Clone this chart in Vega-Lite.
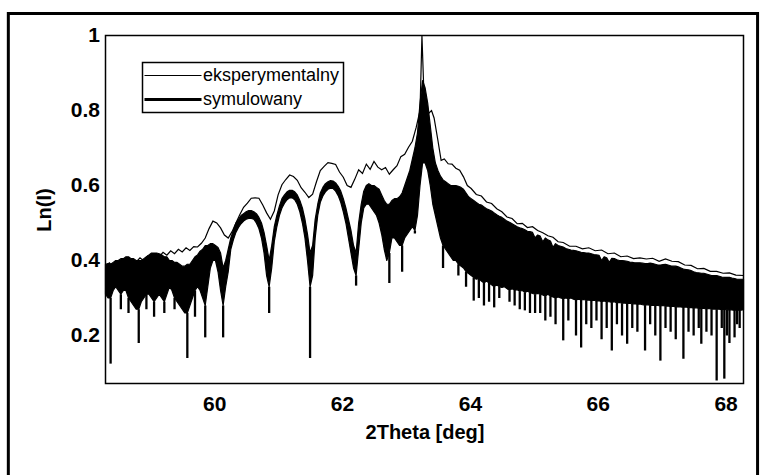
{
  "$schema": "https://vega.github.io/schema/vega-lite/v6.json",
  "width": 638,
  "height": 348,
  "padding": {"left": 6.5, "top": 11.5, "right": 0, "bottom": 0},
  "background": "white",
  "datasets": {
    "sim": [
      {"x":58.30,"top":0.39,"bot":0.31},{"x":58.34,"top":0.392,"bot":0.30},{"x":58.38,"top":0.39,"bot":0.30,"dip":0.125},{"x":58.42,"top":0.395,"bot":0.32},{"x":58.46,"top":0.40,"bot":0.33},{"x":58.50,"top":0.40,"bot":0.32},{"x":58.54,"top":0.405,"bot":0.31,"dip":0.27},{"x":58.58,"top":0.405,"bot":0.32},{"x":58.62,"top":0.41,"bot":0.32},{"x":58.66,"top":0.41,"bot":0.30,"dip":0.26},{"x":58.70,"top":0.405,"bot":0.29},{"x":58.74,"top":0.405,"bot":0.28},{"x":58.78,"top":0.40,"bot":0.27},{"x":58.82,"top":0.40,"bot":0.27,"dip":0.18},{"x":58.86,"top":0.40,"bot":0.29},{"x":58.90,"top":0.405,"bot":0.30},{"x":58.94,"top":0.41,"bot":0.31,"dip":0.27},{"x":58.98,"top":0.415,"bot":0.31},{"x":59.02,"top":0.42,"bot":0.30},{"x":59.06,"top":0.42,"bot":0.29,"dip":0.25},{"x":59.10,"top":0.42,"bot":0.30},{"x":59.14,"top":0.418,"bot":0.31},{"x":59.18,"top":0.415,"bot":0.30},{"x":59.22,"top":0.41,"bot":0.29,"dip":0.26},{"x":59.26,"top":0.41,"bot":0.31},{"x":59.30,"top":0.40,"bot":0.33},{"x":59.34,"top":0.40,"bot":0.32},{"x":59.38,"top":0.395,"bot":0.30,"dip":0.27},{"x":59.42,"top":0.395,"bot":0.29},{"x":59.46,"top":0.39,"bot":0.28},{"x":59.50,"top":0.385,"bot":0.27},{"x":59.54,"top":0.385,"bot":0.26},{"x":59.58,"top":0.39,"bot":0.26,"dip":0.14},{"x":59.62,"top":0.39,"bot":0.28},{"x":59.66,"top":0.40,"bot":0.30},{"x":59.70,"top":0.41,"bot":0.32,"dip":0.25},{"x":59.74,"top":0.415,"bot":0.33},{"x":59.78,"top":0.425,"bot":0.32},{"x":59.82,"top":0.43,"bot":0.30},{"x":59.86,"top":0.44,"bot":0.28,"dip":0.195},{"x":59.90,"top":0.44,"bot":0.33},{"x":59.94,"top":0.445,"bot":0.38},{"x":59.98,"top":0.445,"bot":0.40},{"x":60.02,"top":0.44,"bot":0.40},{"x":60.06,"top":0.435,"bot":0.37},{"x":60.10,"top":0.42,"bot":0.32},{"x":60.14,"top":0.38,"bot":0.28,"dip":0.195},
      {"x":60.18,"top":0.40,"bot":0.33},{"x":60.22,"top":0.43,"bot":0.37},{"x":60.26,"top":0.46,"bot":0.43},{"x":60.30,"top":0.48,"bot":0.455},{"x":60.34,"top":0.50,"bot":0.475},{"x":60.38,"top":0.51,"bot":0.488},{"x":60.42,"top":0.52,"bot":0.498},{"x":60.46,"top":0.525,"bot":0.505},{"x":60.50,"top":0.53,"bot":0.51},{"x":60.54,"top":0.533,"bot":0.512},{"x":60.58,"top":0.533,"bot":0.512},{"x":60.62,"top":0.53,"bot":0.51},{"x":60.66,"top":0.525,"bot":0.50},{"x":60.70,"top":0.515,"bot":0.485},{"x":60.74,"top":0.50,"bot":0.46},{"x":60.78,"top":0.475,"bot":0.42},{"x":60.82,"top":0.44,"bot":0.36},{"x":60.86,"top":0.40,"bot":0.33,"dip":0.26},
      {"x":60.90,"top":0.44,"bot":0.38},{"x":60.94,"top":0.49,"bot":0.45},{"x":60.98,"top":0.52,"bot":0.49},{"x":61.02,"top":0.545,"bot":0.52},{"x":61.06,"top":0.565,"bot":0.54},{"x":61.10,"top":0.575,"bot":0.553},{"x":61.14,"top":0.583,"bot":0.562},{"x":61.18,"top":0.587,"bot":0.567},{"x":61.22,"top":0.587,"bot":0.567},{"x":61.26,"top":0.583,"bot":0.562},{"x":61.30,"top":0.575,"bot":0.55},{"x":61.34,"top":0.56,"bot":0.53},{"x":61.38,"top":0.54,"bot":0.50},{"x":61.42,"top":0.51,"bot":0.46},{"x":61.46,"top":0.47,"bot":0.40},{"x":61.50,"top":0.42,"bot":0.33,"dip":0.14},
      {"x":61.54,"top":0.44,"bot":0.36},{"x":61.58,"top":0.51,"bot":0.46},{"x":61.62,"top":0.55,"bot":0.52},{"x":61.66,"top":0.58,"bot":0.555},{"x":61.70,"top":0.595,"bot":0.572},{"x":61.74,"top":0.605,"bot":0.583},{"x":61.78,"top":0.61,"bot":0.59},{"x":61.82,"top":0.613,"bot":0.593},{"x":61.86,"top":0.612,"bot":0.592},{"x":61.90,"top":0.607,"bot":0.585},{"x":61.94,"top":0.598,"bot":0.573},{"x":61.98,"top":0.585,"bot":0.555},{"x":62.02,"top":0.565,"bot":0.53},{"x":62.06,"top":0.54,"bot":0.50},{"x":62.10,"top":0.51,"bot":0.46},{"x":62.14,"top":0.48,"bot":0.42},{"x":62.18,"top":0.44,"bot":0.38},{"x":62.22,"top":0.42,"bot":0.36,"dip":0.333},
      {"x":62.26,"top":0.50,"bot":0.43},{"x":62.30,"top":0.55,"bot":0.50},{"x":62.34,"top":0.585,"bot":0.54},{"x":62.38,"top":0.60,"bot":0.55},{"x":62.42,"top":0.605,"bot":0.55},{"x":62.46,"top":0.60,"bot":0.54},{"x":62.50,"top":0.60,"bot":0.53},{"x":62.54,"top":0.595,"bot":0.52},{"x":62.58,"top":0.59,"bot":0.50},{"x":62.62,"top":0.575,"bot":0.47},{"x":62.66,"top":0.56,"bot":0.43},{"x":62.70,"top":0.55,"bot":0.40},{"x":62.74,"top":0.55,"bot":0.42,"dip":0.34},{"x":62.78,"top":0.56,"bot":0.46},{"x":62.82,"top":0.565,"bot":0.46},{"x":62.86,"top":0.565,"bot":0.45},{"x":62.90,"top":0.57,"bot":0.44},{"x":62.94,"top":0.58,"bot":0.44,"dip":0.37},{"x":62.98,"top":0.60,"bot":0.46},
      {"x":63.02,"top":0.62,"bot":0.47},{"x":63.06,"top":0.64,"bot":0.48},{"x":63.10,"top":0.67,"bot":0.49},{"x":63.14,"top":0.70,"bot":0.48,"dip":0.472},{"x":63.18,"top":0.74,"bot":0.52},{"x":63.22,"top":0.82,"bot":0.60},{"x":63.26,"top":0.88,"bot":0.66},{"x":63.30,"top":0.86,"bot":0.66},{"x":63.34,"top":0.82,"bot":0.64},{"x":63.38,"top":0.76,"bot":0.60},{"x":63.42,"top":0.70,"bot":0.55},{"x":63.46,"top":0.66,"bot":0.52},{"x":63.50,"top":0.64,"bot":0.49},{"x":63.54,"top":0.625,"bot":0.46},{"x":63.58,"top":0.615,"bot":0.44,"dip":0.38},{"x":63.62,"top":0.61,"bot":0.43},{"x":63.66,"top":0.605,"bot":0.42},{"x":63.70,"top":0.60,"bot":0.41},{"x":63.74,"top":0.60,"bot":0.40},
      {"x":63.78,"top":0.60,"bot":0.40},{"x":63.82,"top":0.598,"bot":0.39,"dip":0.36},{"x":63.86,"top":0.595,"bot":0.385},{"x":63.90,"top":0.59,"bot":0.38},{"x":63.94,"top":0.58,"bot":0.37,"dip":0.33},{"x":63.98,"top":0.57,"bot":0.365},{"x":64.02,"top":0.565,"bot":0.36},{"x":64.06,"top":0.56,"bot":0.355,"dip":0.293},{"x":64.10,"top":0.555,"bot":0.35},{"x":64.14,"top":0.55,"bot":0.352,"dip":0.30},{"x":64.18,"top":0.548,"bot":0.345},{"x":64.22,"top":0.543,"bot":0.34,"dip":0.28},{"x":64.26,"top":0.538,"bot":0.345},{"x":64.30,"top":0.535,"bot":0.34,"dip":0.29},{"x":64.34,"top":0.532,"bot":0.335},{"x":64.38,"top":0.527,"bot":0.33,"dip":0.275},{"x":64.42,"top":0.522,"bot":0.335},{"x":64.46,"top":0.518,"bot":0.33,"dip":0.30},{"x":64.50,"top":0.515,"bot":0.328},{"x":64.54,"top":0.51,"bot":0.33},{"x":64.58,"top":0.505,"bot":0.325},{"x":64.62,"top":0.502,"bot":0.32,"dip":0.29},{"x":64.66,"top":0.498,"bot":0.325},{"x":64.70,"top":0.494,"bot":0.32,"dip":0.28},{"x":64.74,"top":0.49,"bot":0.322},{"x":64.78,"top":0.487,"bot":0.318,"dip":0.27},{"x":64.82,"top":0.485,"bot":0.32},{"x":64.86,"top":0.482,"bot":0.315,"dip":0.267},{"x":64.90,"top":0.478,"bot":0.318},{"x":64.94,"top":0.477,"bot":0.315,"dip":0.26},{"x":64.98,"top":0.475,"bot":0.312},
      {"x":65.02,"top":0.46,"bot":0.31,"dip":0.26},{"x":65.06,"top":0.468,"bot":0.312},{"x":65.10,"top":0.465,"bot":0.31,"dip":0.26},{"x":65.14,"top":0.45,"bot":0.308},{"x":65.18,"top":0.46,"bot":0.305,"dip":0.24},{"x":65.22,"top":0.455,"bot":0.31},{"x":65.26,"top":0.452,"bot":0.305,"dip":0.25},{"x":65.30,"top":0.435,"bot":0.303},{"x":65.34,"top":0.445,"bot":0.30,"dip":0.23},{"x":65.38,"top":0.44,"bot":0.303},{"x":65.42,"top":0.438,"bot":0.30},{"x":65.46,"top":0.436,"bot":0.298,"dip":0.187},{"x":65.50,"top":0.432,"bot":0.30},{"x":65.54,"top":0.43,"bot":0.298,"dip":0.24},{"x":65.58,"top":0.428,"bot":0.30},{"x":65.62,"top":0.427,"bot":0.297},{"x":65.66,"top":0.426,"bot":0.295,"dip":0.20},{"x":65.70,"top":0.424,"bot":0.297},{"x":65.74,"top":0.422,"bot":0.295,"dip":0.168},{"x":65.78,"top":0.421,"bot":0.296},{"x":65.82,"top":0.42,"bot":0.294,"dip":0.23},{"x":65.86,"top":0.42,"bot":0.295},{"x":65.90,"top":0.418,"bot":0.293,"dip":0.22},{"x":65.94,"top":0.416,"bot":0.294},{"x":65.98,"top":0.415,"bot":0.292,"dip":0.24},
      {"x":66.02,"top":0.414,"bot":0.293},{"x":66.06,"top":0.40,"bot":0.29,"dip":0.19},{"x":66.10,"top":0.41,"bot":0.292},{"x":66.14,"top":0.407,"bot":0.29,"dip":0.22},{"x":66.18,"top":0.395,"bot":0.29},{"x":66.22,"top":0.406,"bot":0.288,"dip":0.16},{"x":66.26,"top":0.405,"bot":0.29},{"x":66.30,"top":0.402,"bot":0.287,"dip":0.23},{"x":66.34,"top":0.40,"bot":0.288},{"x":66.38,"top":0.40,"bot":0.286,"dip":0.20},{"x":66.42,"top":0.399,"bot":0.287},{"x":66.46,"top":0.398,"bot":0.285,"dip":0.178},{"x":66.50,"top":0.396,"bot":0.286},{"x":66.54,"top":0.395,"bot":0.284,"dip":0.22},{"x":66.58,"top":0.394,"bot":0.285},{"x":66.62,"top":0.394,"bot":0.283,"dip":0.21},{"x":66.66,"top":0.394,"bot":0.284},{"x":66.70,"top":0.393,"bot":0.282},{"x":66.74,"top":0.392,"bot":0.281,"dip":0.16},{"x":66.78,"top":0.392,"bot":0.282},{"x":66.82,"top":0.393,"bot":0.28,"dip":0.23},{"x":66.86,"top":0.392,"bot":0.281},{"x":66.90,"top":0.39,"bot":0.28,"dip":0.20},{"x":66.94,"top":0.388,"bot":0.28},{"x":66.98,"top":0.388,"bot":0.279,"dip":0.133},
      {"x":67.02,"top":0.389,"bot":0.28},{"x":67.06,"top":0.39,"bot":0.278,"dip":0.22},{"x":67.10,"top":0.388,"bot":0.279},{"x":67.14,"top":0.386,"bot":0.277,"dip":0.21},{"x":67.18,"top":0.385,"bot":0.278},{"x":67.22,"top":0.385,"bot":0.276,"dip":0.19},{"x":67.26,"top":0.383,"bot":0.277},{"x":67.30,"top":0.38,"bot":0.276},{"x":67.34,"top":0.377,"bot":0.275,"dip":0.138},{"x":67.38,"top":0.376,"bot":0.276},{"x":67.42,"top":0.375,"bot":0.274,"dip":0.21},{"x":67.46,"top":0.373,"bot":0.275},{"x":67.50,"top":0.37,"bot":0.273,"dip":0.20},{"x":67.54,"top":0.368,"bot":0.274},{"x":67.58,"top":0.367,"bot":0.272,"dip":0.22},{"x":67.62,"top":0.366,"bot":0.273,"dip":0.178},{"x":67.66,"top":0.366,"bot":0.272},{"x":67.70,"top":0.364,"bot":0.271,"dip":0.21},{"x":67.74,"top":0.362,"bot":0.272},{"x":67.78,"top":0.36,"bot":0.27,"dip":0.20},{"x":67.82,"top":0.36,"bot":0.271},{"x":67.86,"top":0.36,"bot":0.27,"dip":0.08},{"x":67.90,"top":0.358,"bot":0.27},{"x":67.94,"top":0.356,"bot":0.269,"dip":0.22},{"x":67.98,"top":0.355,"bot":0.27,"dip":0.085},
      {"x":68.02,"top":0.355,"bot":0.268,"dip":0.20},{"x":68.06,"top":0.355,"bot":0.269,"dip":0.18},{"x":68.10,"top":0.353,"bot":0.268},{"x":68.14,"top":0.352,"bot":0.267,"dip":0.195},{"x":68.18,"top":0.35,"bot":0.268,"dip":0.23},{"x":68.22,"top":0.35,"bot":0.267,"dip":0.22},{"x":68.26,"top":0.35,"bot":0.268},{"x":68.28,"top":0.35,"bot":0.268}
    ],
    "exp": [
      {"x":58.30,"y":0.385},{"x":58.36,"y":0.394},{"x":58.42,"y":0.384},{"x":58.48,"y":0.397},{"x":58.54,"y":0.388},{"x":58.60,"y":0.40},{"x":58.66,"y":0.392},{"x":58.72,"y":0.404},{"x":58.78,"y":0.396},{"x":58.84,"y":0.407},{"x":58.90,"y":0.399},{"x":58.96,"y":0.412},{"x":59.02,"y":0.406},{"x":59.08,"y":0.418},{"x":59.14,"y":0.41},{"x":59.20,"y":0.422},{"x":59.26,"y":0.414},{"x":59.32,"y":0.426},{"x":59.38,"y":0.418},{"x":59.44,"y":0.43},{"x":59.50,"y":0.423},{"x":59.56,"y":0.434},{"x":59.62,"y":0.427},{"x":59.68,"y":0.437},{"x":59.74,"y":0.436},{"x":59.80,"y":0.446},{"x":59.86,"y":0.46},{"x":59.92,"y":0.485},{"x":59.98,"y":0.505},
      {"x":60.04,"y":0.50},{"x":60.10,"y":0.487},{"x":60.16,"y":0.468},{"x":60.22,"y":0.46},{"x":60.28,"y":0.477},{"x":60.34,"y":0.50},{"x":60.40,"y":0.522},{"x":60.46,"y":0.542},{"x":60.52,"y":0.553},{"x":60.58,"y":0.566},{"x":60.64,"y":0.567},{"x":60.70,"y":0.566},{"x":60.76,"y":0.548},{"x":60.82,"y":0.527},{"x":60.88,"y":0.51},{"x":60.94,"y":0.532},
      {"x":61.00,"y":0.575},{"x":61.06,"y":0.602},{"x":61.12,"y":0.616},{"x":61.18,"y":0.628},{"x":61.24,"y":0.624},{"x":61.30,"y":0.614},{"x":61.36,"y":0.594},{"x":61.42,"y":0.582},{"x":61.48,"y":0.568},{"x":61.54,"y":0.577},{"x":61.60,"y":0.61},{"x":61.66,"y":0.64},{"x":61.72,"y":0.651},{"x":61.78,"y":0.661},{"x":61.84,"y":0.659},{"x":61.90,"y":0.656},{"x":61.96,"y":0.636},
      {"x":62.02,"y":0.622},{"x":62.08,"y":0.60},{"x":62.14,"y":0.595},{"x":62.20,"y":0.617},{"x":62.26,"y":0.642},{"x":62.32,"y":0.632},{"x":62.38,"y":0.657},{"x":62.44,"y":0.643},{"x":62.50,"y":0.664},{"x":62.56,"y":0.649},{"x":62.62,"y":0.642},{"x":62.68,"y":0.648},{"x":62.74,"y":0.63},{"x":62.80,"y":0.642},{"x":62.86,"y":0.653},{"x":62.92,"y":0.677},{"x":62.98,"y":0.683},
      {"x":63.04,"y":0.702},{"x":63.10,"y":0.718},{"x":63.16,"y":0.755},{"x":63.22,"y":0.80},{"x":63.25,"y":1.0},{"x":63.28,"y":0.85},{"x":63.34,"y":0.79},{"x":63.40,"y":0.80},{"x":63.44,"y":0.78},{"x":63.50,"y":0.72},{"x":63.55,"y":0.667},{"x":63.60,"y":0.671},{"x":63.66,"y":0.658},{"x":63.72,"y":0.657},{"x":63.78,"y":0.646},{"x":63.84,"y":0.641},{"x":63.90,"y":0.623},{"x":63.96,"y":0.60},
      {"x":64.02,"y":0.592},{"x":64.10,"y":0.576},{"x":64.18,"y":0.572},{"x":64.26,"y":0.556},{"x":64.34,"y":0.552},{"x":64.42,"y":0.538},{"x":64.50,"y":0.53},{"x":64.58,"y":0.516},{"x":64.66,"y":0.512},{"x":64.74,"y":0.498},{"x":64.82,"y":0.499},{"x":64.90,"y":0.488},{"x":64.98,"y":0.49},
      {"x":65.06,"y":0.48},{"x":65.14,"y":0.474},{"x":65.22,"y":0.466},{"x":65.30,"y":0.462},{"x":65.38,"y":0.45},{"x":65.46,"y":0.448},{"x":65.56,"y":0.438},{"x":65.66,"y":0.438},{"x":65.76,"y":0.431},{"x":65.86,"y":0.434},{"x":65.96,"y":0.426},
      {"x":66.06,"y":0.428},{"x":66.16,"y":0.418},{"x":66.26,"y":0.42},{"x":66.36,"y":0.41},{"x":66.46,"y":0.412},{"x":66.56,"y":0.405},{"x":66.66,"y":0.407},{"x":66.76,"y":0.404},{"x":66.86,"y":0.406},{"x":66.96,"y":0.398},
      {"x":67.06,"y":0.404},{"x":67.16,"y":0.398},{"x":67.26,"y":0.397},{"x":67.36,"y":0.388},{"x":67.46,"y":0.387},{"x":67.56,"y":0.378},{"x":67.66,"y":0.379},{"x":67.76,"y":0.371},{"x":67.86,"y":0.371},{"x":67.96,"y":0.366},
      {"x":68.06,"y":0.367},{"x":68.16,"y":0.361},{"x":68.28,"y":0.36}
    ]
  },
  "layer": [
    {
      "data": {"values": [{}]},
      "mark": {"type": "rect", "filled": false, "color": "black", "strokeWidth": 3},
      "encoding": {
        "x": {"datum": 56.78, "type": "quantitative"},
        "x2": {"datum": 68.5},
        "y": {"datum": 1.0587, "type": "quantitative"},
        "y2": {"datum": -0.18}
      }
    },
    {
      "data": {"name": "sim"},
      "mark": {"type": "area", "color": "black", "stroke": "black", "strokeWidth": 1.2, "strokeJoin": "round"},
      "encoding": {
        "x": {"field": "x", "type": "quantitative", "scale": {"domain": [58.3, 68.28], "nice": false, "zero": false},
              "axis": {"values": [60, 62, 64, 66, 68], "format": "d", "title": "2Theta [deg]"}},
        "y": {"field": "top", "type": "quantitative", "scale": {"domain": [0.072, 1], "nice": false, "zero": false},
              "axis": {"values": [0.2, 0.4, 0.6, 0.8, 1], "format": "~g", "title": "Ln(I)"}},
        "y2": {"field": "bot"}
      }
    },
    {
      "data": {"name": "sim"},
      "transform": [{"filter": "isValid(datum.dip)"}],
      "mark": {"type": "rule", "color": "black", "strokeWidth": 2.3},
      "encoding": {
        "x": {"field": "x", "type": "quantitative"},
        "y": {"field": "bot", "type": "quantitative"},
        "y2": {"field": "dip"}
      }
    },
    {
      "data": {"name": "exp"},
      "transform": [{"calculate": "'eksperymentalny'", "as": "series"}],
      "mark": {"type": "line"},
      "encoding": {
        "x": {"field": "x", "type": "quantitative"},
        "y": {"field": "y", "type": "quantitative"},
        "color": {"field": "series", "type": "nominal",
                  "scale": {"domain": ["eksperymentalny", "symulowany"], "range": ["black", "black"]},
                  "legend": {"title": null, "orient": "none", "legendX": 37, "legendY": 27}},
        "strokeWidth": {"field": "series", "type": "nominal",
                        "scale": {"domain": ["eksperymentalny", "symulowany"], "range": [1.2, 3]},
                        "legend": {"title": null, "orient": "none", "legendX": 37, "legendY": 27}}
      }
    }
  ],
  "config": {
    "view": {"stroke": "black", "strokeWidth": 1.5},
    "axis": {
      "domain": false, "ticks": false, "grid": false,
      "labelFont": "Liberation Sans", "labelFontWeight": "bold", "labelFontSize": 21, "labelColor": "black",
      "titleFont": "Liberation Sans", "titleFontWeight": "bold", "titleFontSize": 20, "titleColor": "black"
    },
    "axisX": {"labelPadding": 10, "titlePadding": 8},
    "axisY": {"labelPadding": 6, "titlePadding": 16},
    "legend": {
      "symbolType": "M-5.7,0H5.7", "symbolSize": 100, "symbolOffset": 17.5, "symbolStrokeColor": "black",
      "labelFont": "Liberation Sans", "labelFontSize": 18, "labelColor": "black", "labelOffset": 21,
      "padding": 4, "rowPadding": 6, "strokeColor": "black", "strokeWidth": 1.5, "fillColor": "white"
    }
  }
}
